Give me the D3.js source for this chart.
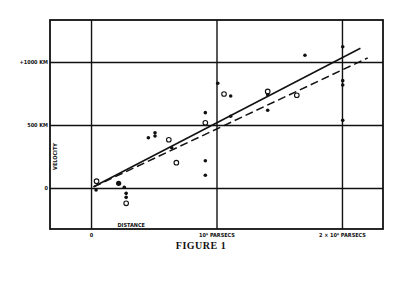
<!DOCTYPE html>
<html>
<head>
<meta charset="utf-8">
<script src="https://cdn.jsdelivr.net/npm/d3@7"></script>
<style>
  body { margin: 0; background: #fff; }
  .lbl { font-family: "DejaVu Sans Condensed", "Liberation Sans Narrow", sans-serif; font-weight: bold; font-size: 5.5px; fill: #111; }
</style>
</head>
<body>
<div id="chart"></div>
<script>
// distance in 10^6 parsecs, velocity in km/s
const filledDist = [0.04, 0.22, 0.265, 0.28, 0.28, 0.457, 0.51, 0.51, 0.643, 0.911, 0.911, 0.911,
    1.01, 1.113, 1.113, 1.408, 1.408, 1.705, 2.006, 2.006, 2.006, 2.006];
const filledVel = [-16, 37, 6, -42, -74, 399, 439, 413, 320, 598, 217, 101,
    831, 730, 569, 740, 617, 1053, 1121, 852, 817, 537];
const filledBig = [false, true, false, false, false, false, false, false, false, false, false, false,
    false, false, false, false, false, false, false, false, false, false];

const openDist = [0.044, 0.28, 0.62, 0.68, 0.911, 1.06, 1.408, 1.64];
const openVel = [54, -121, 383, 201, 518, 746, 766, 736];

// fitted lines: [distance, velocity] end points
const solidFit = [[0.02, 10], [2.147, 1109]];
const dashedFit = [[0.02, 9], [2.205, 1032]];

const xTicks = [0, 1, 2];
const xTickLabels = ["0", "10⁶ PARSECS", "2 × 10⁶ PARSECS"];
const yTicks = [0, 500, 1000];
const yTickLabels = ["0", "500 KM", "+1000 KM"];

function drawChart() {
    const width = 400;
    const height = 300;
    const margin = { top: 20, right: 17, bottom: 71, left: 50 };
    const ink = "#111";

    const svg = d3.select("#chart").append("svg")
        .attr("width", width)
        .attr("height", height);

    const xScale = d3.scaleLinear()
        .domain([-0.327, 2.327])
        .range([margin.left, width - margin.right]);

    const yScale = d3.scaleLinear()
        .domain([-325, 1333])
        .range([height - margin.bottom, margin.top]);

    const plotW = width - margin.left - margin.right;
    const plotH = height - margin.top - margin.bottom;

    // grid lines + labels on the y side
    const yAxis = d3.axisLeft(yScale)
        .tickValues(yTicks)
        .tickSize(-plotW)
        .tickPadding(2)
        .tickFormat((d, i) => yTickLabels[i]);
    const gy = svg.append("g")
        .attr("transform", `translate(${margin.left},0)`)
        .call(yAxis);
    gy.select(".domain").remove();
    gy.selectAll(".tick line").attr("stroke", ink).attr("stroke-width", 1.4);
    gy.selectAll(".tick text").attr("class", "lbl").attr("font-size", null).attr("font-family", null);

    // grid lines + labels on the x side
    const xAxis = d3.axisBottom(xScale)
        .tickValues(xTicks)
        .tickSize(-plotH)
        .tickPadding(4)
        .tickFormat((d, i) => xTickLabels[i]);
    const gx = svg.append("g")
        .attr("transform", `translate(0,${height - margin.bottom})`)
        .call(xAxis);
    gx.select(".domain").remove();
    gx.selectAll(".tick line").attr("stroke", ink).attr("stroke-width", 1.4);
    gx.selectAll(".tick text").attr("class", "lbl").attr("font-size", null).attr("font-family", null);

    // frame
    svg.append("rect")
        .attr("x", margin.left)
        .attr("y", margin.top)
        .attr("width", plotW)
        .attr("height", plotH)
        .attr("fill", "none")
        .attr("stroke", ink)
        .attr("stroke-width", 1.8);

    // axis names
    svg.append("text")
        .attr("class", "lbl")
        .attr("transform", `translate(${margin.left + 7},${yScale(250)}) rotate(-90)`)
        .attr("text-anchor", "middle")
        .text("VELOCITY");

    svg.append("text")
        .attr("class", "lbl")
        .attr("x", xScale(0.32))
        .attr("y", height - margin.bottom - 2)
        .attr("text-anchor", "middle")
        .text("DISTANCE");

    // fitted lines
    const line = d3.line()
        .x(d => xScale(d[0]))
        .y(d => yScale(d[1]));

    svg.append("path")
        .datum(solidFit)
        .attr("fill", "none")
        .attr("stroke", ink)
        .attr("stroke-width", 1.5)
        .attr("d", line);

    svg.append("path")
        .datum(dashedFit)
        .attr("fill", "none")
        .attr("stroke", ink)
        .attr("stroke-width", 1.5)
        .attr("stroke-dasharray", "8,4")
        .attr("d", line);

    // groups (open circles) first, so overlapping dots sit on top
    svg.selectAll("circle.open")
        .data(openDist.map((d, i) => ({ x: d, v: openVel[i] })))
        .enter()
        .append("circle")
        .attr("class", "open")
        .attr("cx", d => xScale(d.x))
        .attr("cy", d => yScale(d.v))
        .attr("r", 2.3)
        .attr("fill", "#fff")
        .attr("stroke", ink)
        .attr("stroke-width", 1.1);

    // individual nebulae
    svg.selectAll("circle.filled")
        .data(filledDist.map((d, i) => ({ x: d, v: filledVel[i], big: filledBig[i] })))
        .enter()
        .append("circle")
        .attr("class", "filled")
        .attr("cx", d => xScale(d.x))
        .attr("cy", d => yScale(d.v))
        .attr("r", d => d.big ? 2.6 : 1.8)
        .attr("fill", ink);

    // caption
    svg.append("text")
        .attr("x", 201)
        .attr("y", 249)
        .attr("text-anchor", "middle")
        .attr("font-family", "'Liberation Serif', 'DejaVu Serif', serif")
        .attr("font-size", 10)
        .attr("font-weight", "bold")
        .attr("letter-spacing", 0.5)
        .attr("fill", ink)
        .text("FIGURE 1");
}

drawChart();
</script>
</body>
</html>
